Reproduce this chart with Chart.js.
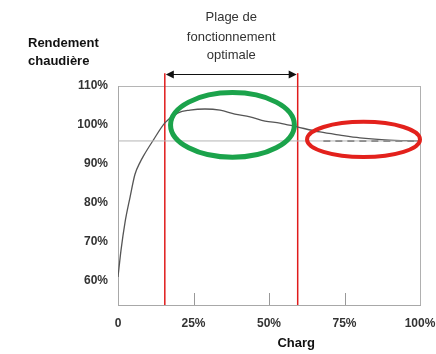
<!DOCTYPE html>
<html>
<head>
<meta charset="utf-8">
<script src="https://cdn.jsdelivr.net/npm/chart.js@4.4.1/dist/chart.umd.min.js"></script>
<style>
  html, body { margin: 0; padding: 0; background: #fff; }
  #wrap { width: 436px; height: 354px; }
</style>
</head>
<body>
<div id="wrap"><canvas id="rendementChart"></canvas></div>
<script>
// load (% of nominal) and boiler efficiency
const loadPct = [0, 1.0, 2.3, 4.0, 5.6, 7.3, 8.4, 11.6, 15.6, 19.9, 23.8, 28.8, 33.8, 38.7, 43.7, 48.7, 53.6, 59.3, 66.9, 73.5, 80.1, 88.4, 100];
const efficiency = [61.0, 67.9, 74.9, 81.5, 87.3, 90.4, 92.0, 96.0, 100.6, 103.1, 103.8, 104.1, 103.8, 102.8, 102.1, 101.0, 100.5, 99.5, 98.2, 97.4, 96.7, 96.2, 95.9];

const yTicks = [60, 70, 80, 90, 100, 110];
const xTicks = [0, 25, 50, 75, 100];

const refLevel = 95.9;          // grey horizontal reference line
const dashedRange = [68, 98];   // dashed segment at the end of the curve
const optimalRange = [15.5, 59.5];

const ctx = document.getElementById('rendementChart').getContext('2d');

// extras drawn on top: titles, arrow, ellipses, inner tick marks
const extras = {
    id: 'extras',
    afterDraw(chart) {
        const { ctx, chartArea, scales: { x, y } } = chart;
        ctx.save();

        // right border of the box
        ctx.strokeStyle = '#b0b0b0';
        ctx.lineWidth = 1;
        ctx.beginPath();
        ctx.moveTo(chartArea.right + 0.5, chartArea.top);
        ctx.lineTo(chartArea.right + 0.5, chartArea.bottom);
        ctx.stroke();

        // small tick marks inside the plot
        ctx.strokeStyle = '#999';
        xTicks.slice(1, -1).forEach(v => {
            const px = Math.round(x.getPixelForValue(v)) + 0.5;
            ctx.beginPath();
            ctx.moveTo(px, chartArea.bottom);
            ctx.lineTo(px, chartArea.bottom - 12);
            ctx.stroke();
        });

        // y axis title
        ctx.fillStyle = '#111';
        ctx.font = 'bold 13px "Liberation Sans", Arial, sans-serif';
        ctx.textAlign = 'left';
        ctx.textBaseline = 'middle';
        ctx.fillText('Rendement', 28, 43);
        ctx.fillText('chaudière', 28, 61);

        // x axis title
        ctx.textAlign = 'center';
        ctx.fillText('Charg', x.getPixelForValue(59), 343);

        // range caption
        ctx.fillStyle = '#333';
        ctx.font = '13px "Liberation Sans", Arial, sans-serif';
        const cx = (x.getPixelForValue(optimalRange[0]) + x.getPixelForValue(optimalRange[1])) / 2;
        ctx.fillText('Plage de', cx, 17);
        ctx.fillText('fonctionnement', cx, 37);
        ctx.fillText('optimale', cx, 55);

        // double arrow between the red lines
        const x1 = x.getPixelForValue(optimalRange[0]);
        const x2 = x.getPixelForValue(optimalRange[1]);
        const ay = 74.5;
        ctx.strokeStyle = '#111';
        ctx.fillStyle = '#111';
        ctx.lineWidth = 1.2;
        ctx.beginPath();
        ctx.moveTo(x1 + 6, ay);
        ctx.lineTo(x2 - 6, ay);
        ctx.stroke();
        [[x1, 1], [x2, -1]].forEach(([px, d]) => {
            ctx.beginPath();
            ctx.moveTo(px + d, ay);
            ctx.lineTo(px + d * 9, ay - 4);
            ctx.lineTo(px + d * 9, ay + 4);
            ctx.closePath();
            ctx.fill();
        });

        // ellipses
        const ellipse = (xv, yv, rxv, ryv, color, w) => {
            const px = x.getPixelForValue(xv);
            const py = y.getPixelForValue(yv);
            const rx = x.getPixelForValue(xv + rxv) - px;
            const ry = py - y.getPixelForValue(yv + ryv);
            ctx.strokeStyle = color;
            ctx.lineWidth = w;
            ctx.beginPath();
            ctx.ellipse(px, py, rx, ry, 0, 0, Math.PI * 2);
            ctx.stroke();
        };
        ellipse(37.9, 100, 20.5, 8.3, '#1ba34b', 5);
        ellipse(81.3, 96.3, 18.7, 4.5, '#e3211c', 4);

        ctx.restore();
    }
};

const chart = new Chart(ctx, {
    type: 'line',
    data: {
        datasets: [
            {
                // reference line
                data: [{ x: 0, y: refLevel }, { x: 100, y: refLevel }],
                borderColor: '#b5b5b5',
                borderWidth: 1,
                pointRadius: 0
            },
            {
                data: loadPct.map((v, i) => ({ x: v, y: efficiency[i] })),
                borderColor: '#555',
                borderWidth: 1.3,
                pointRadius: 0,
                cubicInterpolationMode: 'monotone'
            },
            {
                data: [{ x: dashedRange[0], y: refLevel }, { x: dashedRange[1], y: refLevel }],
                borderColor: '#444',
                borderWidth: 1.5,
                borderDash: [7, 5],
                pointRadius: 0
            },
            {
                data: [{ x: optimalRange[0], y: 53.8 }, { x: optimalRange[0], y: 113.3 }],
                borderColor: '#e01b1b',
                borderWidth: 1.5,
                pointRadius: 0,
                clip: false
            },
            {
                data: [{ x: optimalRange[1], y: 53.8 }, { x: optimalRange[1], y: 113.3 }],
                borderColor: '#e01b1b',
                borderWidth: 1.5,
                pointRadius: 0,
                clip: false
            }
        ]
    },
    options: {
        responsive: true,
        maintainAspectRatio: false,
        animation: false,
        layout: {
            padding: { top: 86, right: 16, left: 0, bottom: 0 }
        },
        scales: {
            x: {
                type: 'linear',
                min: 0,
                max: 100,
                afterFit: s => { s.height = 49; s.paddingRight = 0; s.paddingLeft = 0; },
                afterBuildTicks: s => { s.ticks = xTicks.map(v => ({ value: v })); },
                ticks: {
                    padding: 3,
                    color: '#333',
                    font: { family: '"Liberation Sans", Arial, sans-serif', size: 12, weight: 'bold' },
                    maxRotation: 0,
                    callback: v => v === 0 ? '0' : v + '%'
                },
                grid: { display: false },
                border: { color: '#a8a8a8' }
            },
            y: {
                min: 53.8,
                max: 110,
                afterFit: s => { s.width = 118; },
                afterBuildTicks: s => { s.ticks = yTicks.map(v => ({ value: v })); },
                ticks: {
                    padding: 10,
                    color: '#333',
                    font: { family: '"Liberation Sans", Arial, sans-serif', size: 12, weight: 'bold' },
                    callback: v => v + '%'
                },
                grid: {
                    drawTicks: false,
                    color: c => c.tick && c.tick.value === 110 ? '#b5b5b5' : 'rgba(0,0,0,0)'
                },
                border: { color: '#a8a8a8' }
            }
        },
        plugins: {
            legend: { display: false },
            tooltip: { enabled: false }
        }
    },
    plugins: [extras]
});
</script>
</body>
</html>
